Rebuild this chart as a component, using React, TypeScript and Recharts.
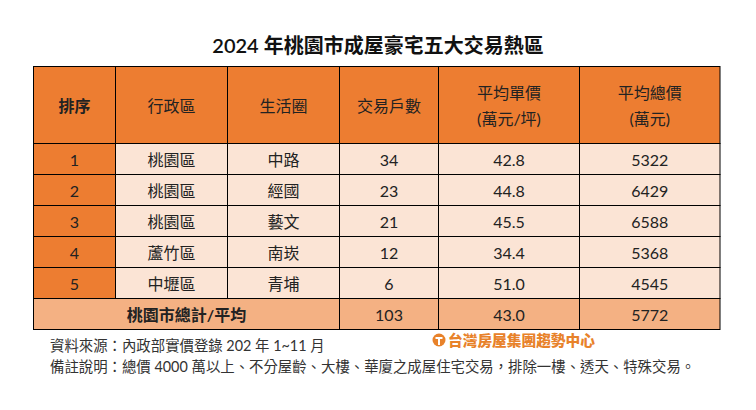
import { Bar, BarChart, XAxis, YAxis } from "recharts";

// table content
const headers = [["排序"], ["行政區"], ["生活圈"], ["交易戶數"], ["平均單價", "(萬元/坪)"], ["平均總價", "(萬元)"]];
const ranks = [1, 2, 3, 4, 5];
const districts = ["桃園區", "桃園區", "桃園區", "蘆竹區", "中壢區"];
const areas = ["中路", "經國", "藝文", "南崁", "青埔"];
const households = [34, 23, 21, 12, 6];
const unitPrices = [42.8, 44.8, 45.5, 34.4, 51.0];
const totalPrices = [5322, 6429, 6588, 5368, 4545];
const totalLabel = "桃園市總計/平均";
const totalHouseholds = 103;
const totalUnitPrice = 43.0;
const totalPrice = 5772;

const title = "2024 年桃園市成屋豪宅五大交易熱區";
const sourceNote = "資料來源：內政部實價登錄 202 年 1~11 月";
const remarkNote = "備註說明：總價 4000 萬以上、不分屋齡、大樓、華廈之成屋住宅交易，排除一樓、透天、特殊交易。";
const logoText = "台灣房屋集團趨勢中心";

// layout
const colWidths = [82, 112, 112, 99, 141, 140.5];
const tableWidth = colWidths.reduce((a, b) => a + b, 0);
const cols = colWidths.map((_, i) => i);

const ORANGE = "#ED7D31";
const PEACH = "#FBE4D5";
const SALMON = "#F4B183";
const FONT = 'Lato, "Noto Sans CJK TC", sans-serif';
const CJK = '"Noto Sans CJK TC", sans-serif';

type Row = { key: string; kind: "head" | "row" | "total"; [k: string]: any };

function makeRow(key: string, kind: Row["kind"], texts: string[][], widths: number[]): Row {
  const row: Row = { key, kind };
  cols.forEach((c) => {
    row[`w${c}`] = widths[c];
    row[`t${c}`] = texts[c];
  });
  return row;
}

const headRows: Row[] = [makeRow("head", "head", headers, colWidths)];

const bodyRows: Row[] = [
  ...ranks.map((r, i) =>
    makeRow(
      `r${r}`,
      "row",
      [[String(r)], [districts[i]], [areas[i]], [String(households[i])], [unitPrices[i].toFixed(1)], [String(totalPrices[i])]],
      colWidths
    )
  ),
  makeRow(
    "total",
    "total",
    [[totalLabel], [], [], [String(totalHouseholds)], [totalUnitPrice.toFixed(1)], [String(totalPrice)]],
    [colWidths[0] + colWidths[1] + colWidths[2], 0, 0, colWidths[3], colWidths[4], colWidths[5]]
  ),
];

function cellShape(col: number) {
  return (props: any) => {
    const { x, y, width, height, payload } = props;
    if (!width || width <= 0) return <g />;
    const kind = payload.kind;
    const fill = kind === "head" ? ORANGE : kind === "total" ? SALMON : col === 0 ? ORANGE : PEACH;
    const lines: string[] = payload[`t${col}`] || [];
    const bold = col === 0 && kind !== "row";
    const cx = x + width / 2;
    const cy = y + height / 2;
    return (
      <g>
        <rect x={x} y={y} width={width} height={height} fill={fill} stroke="#000" strokeWidth={1} />
        {lines.map((ln, li) => (
          <text
            key={li}
            x={cx}
            y={cy + (li - (lines.length - 1) / 2) * 26}
            textAnchor="middle"
            dominantBaseline="central"
            fontFamily={FONT}
            fontSize={16}
            fontWeight={bold ? 700 : 400}
            fill="#222"
          >
            {ln}
          </text>
        ))}
      </g>
    );
  };
}

function TablePart({ data, height }: { data: Row[]; height: number }) {
  return (
    <BarChart
      layout="vertical"
      width={756}
      height={height}
      data={data}
      margin={{ top: 0.5, right: 756 - 33.5 - tableWidth, bottom: 0.5, left: 33.5 }}
      barCategoryGap={0}
    >
      <XAxis type="number" hide domain={[0, tableWidth]} />
      <YAxis type="category" dataKey="key" hide />
      {cols.map((c) => (
        <Bar key={c} dataKey={`w${c}`} stackId="cells" isAnimationActive={false} shape={cellShape(c)} />
      ))}
    </BarChart>
  );
}

export default function App() {
  return (
    <div style={{ position: "absolute", left: 0, top: 0, width: 756, height: 410, background: "#fff", overflow: "hidden" }}>
      <div
        style={{
          position: "absolute",
          top: 32,
          left: 0,
          width: 756,
          textAlign: "center",
          fontFamily: FONT,
          fontSize: 20,
          fontWeight: 600,
          lineHeight: "26px",
          color: "#111",
        }}
      >
        {title}
      </div>
      <div style={{ position: "absolute", top: 66, left: 0 }}>
        <TablePart data={headRows} height={78} />
      </div>
      <div style={{ position: "absolute", top: 143, left: 0 }}>
        <TablePart data={bodyRows} height={187} />
      </div>
      <div style={{ position: "absolute", top: 331, left: 432, display: "flex", alignItems: "center", height: 18 }}>
        <svg width={14} height={14} style={{ marginRight: 2 }}>
          <circle cx={7} cy={7} r={6.5} fill="#E8822A" />
          <path d="M3.5 5 H10.5 M7 5 V12" stroke="#fff" strokeWidth={2} />
        </svg>
        <span style={{ fontFamily: CJK, fontSize: 14.7, fontWeight: 900, color: "#E8822A", lineHeight: "18px" }}>{logoText}</span>
      </div>
      <div style={{ position: "absolute", top: 336, left: 50, fontFamily: FONT, fontSize: 14.4, lineHeight: "20px", color: "#333", whiteSpace: "nowrap" }}>
        {sourceNote}
      </div>
      <div style={{ position: "absolute", top: 357, left: 50, fontFamily: FONT, fontSize: 14.4, lineHeight: "20px", color: "#333", whiteSpace: "nowrap" }}>
        {remarkNote}
      </div>
    </div>
  );
}
